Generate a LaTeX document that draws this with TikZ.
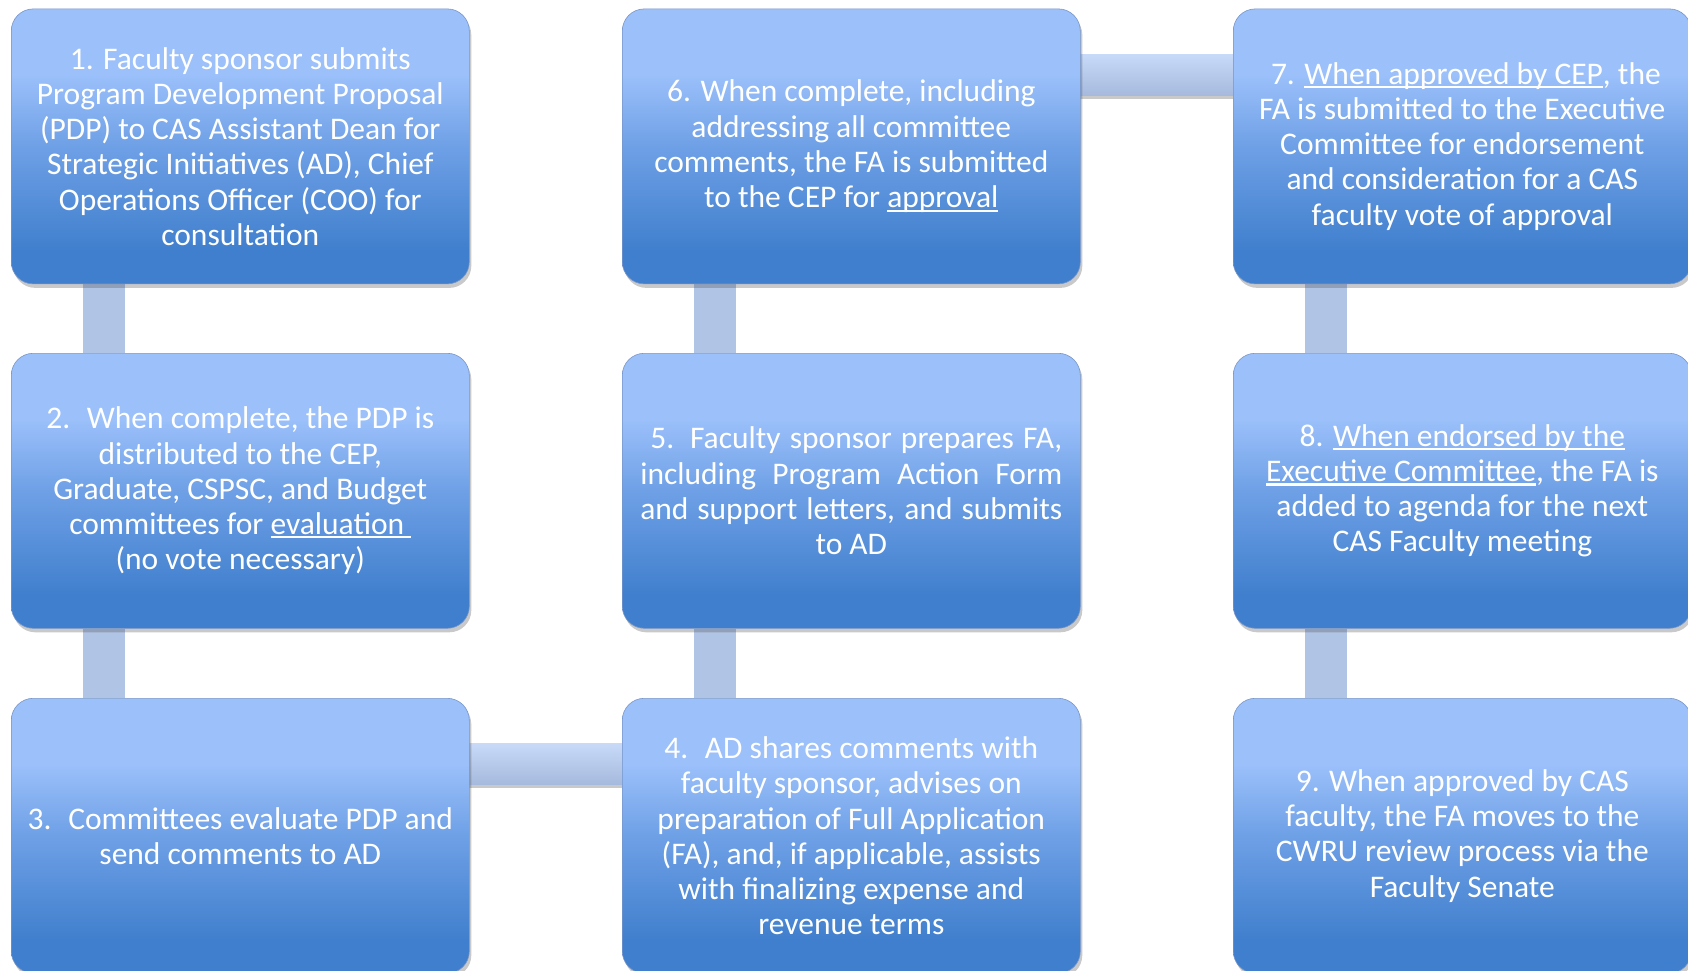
\documentclass[tikz,border=0pt]{standalone}
\usepackage{fontspec}
\setmainfont{Carlito}
\usetikzlibrary{shadows,calc}
\pgfdeclarelayer{bg}
\pgfsetlayers{bg,main}
\definecolor{boxtop}{RGB}{155,192,250}
\definecolor{boxmid}{RGB}{110,160,230}
\definecolor{boxbot}{RGB}{64,127,205}
\definecolor{boxedge}{RGB}{120,150,200}
\definecolor{barcol}{RGB}{176,196,230}
\definecolor{bartop}{RGB}{200,218,248}
\definecolor{barbot}{RGB}{166,186,222}
\pgfdeclareverticalshading{boxshade}{100bp}{color(0bp)=(boxbot); color(31bp)=(boxbot); color(50bp)=(boxmid); color(63bp)=(boxtop); color(100bp)=(boxtop)}
\newcommand\myul[1]{\setbox0\hbox{#1}\rlap{\rule[-0.13em]{\wd0}{0.065em}}\box0}
\tikzset{
  stepbox/.style={rectangle, rounded corners=22pt, minimum width=458pt,
    minimum height=275pt, inner sep=0pt, anchor=north west,
    shading=boxshade, draw=boxedge, line width=0.6pt,
    drop shadow={shadow xshift=2pt, shadow yshift=-4pt, opacity=0.3, fill=black!70},
    text=white, align=center, font=\fontsize{31.5}{35.2}\selectfont},
  vbar/.style={draw=barcol, line width=42pt},
  hbar/.style={top color=bartop, bottom color=barbot,
    drop shadow={shadow xshift=0pt, shadow yshift=-4pt, opacity=0.3, fill=black!70}},
}
\begin{document}
\begin{tikzpicture}[x=1pt,y=-1pt]
\useasboundingbox (0,0) rectangle (1688,971);
\node[stepbox] (b1) at (11,8.6) {1. Faculty sponsor submits\\ Program Development Proposal\\ (PDP) to CAS Assistant Dean for\\ Strategic Initiatives (AD), Chief\\ Operations Officer (COO) for\\ consultation};
\node[stepbox] (b2) at (11,353) {2.~ When complete, the PDP is\\ distributed to the CEP,\\ Graduate, CSPSC, and Budget\\ committees for \myul{evaluation\ }\\ (no vote necessary)};
\node[stepbox] (b3) at (11,698) {3.~ Committees evaluate PDP and\\ send comments to AD};
\node[stepbox] (b4) at (622,698) {4.~ AD shares comments with\\ faculty sponsor, advises on\\ preparation of Full Application\\ (FA), and, if applicable, assists\\ with finalizing expense and\\ revenue terms};
\node[stepbox] (b5) at (622,353) {\makebox[422pt][s]{\hspace*{10pt}5. Faculty sponsor prepares FA,}\\ \makebox[422pt][s]{including Program Action Form}\\ \makebox[422pt][s]{and support letters, and submits}\\ to AD};
\node[stepbox] (b6) at (622,8.6) {6. When complete, including\\ addressing all committee\\ comments, the FA is submitted\\ to the CEP for \myul{approval}};
\node[stepbox] (b7) at (1233,8.6) {\ 7. \myul{When approved by CEP}, the\\ FA is submitted to the Executive\\ Committee for endorsement\\ and consideration for a CAS\\ faculty vote of approval};
\node[stepbox] (b8) at (1233,353) {8. \myul{When endorsed by the}\\ \myul{Executive Committee}, the FA is\\ added to agenda for the next\\ CAS Faculty meeting};
\node[stepbox] (b9) at (1233,698) {9. When approved by CAS\\ faculty, the FA moves to the\\ CWRU review process via the\\ Faculty Senate};
\begin{pgfonlayer}{bg}
\draw[vbar] ($(b1.south west)+(93,0)$) -- ($(b2.north west)+(93,0)$);
\draw[vbar] ($(b2.south west)+(93,0)$) -- ($(b3.north west)+(93,0)$);
\draw[vbar] ($(b6.south west)+(93,0)$) -- ($(b5.north west)+(93,0)$);
\draw[vbar] ($(b5.south west)+(93,0)$) -- ($(b4.north west)+(93,0)$);
\draw[vbar] ($(b7.south west)+(93,0)$) -- ($(b8.north west)+(93,0)$);
\draw[vbar] ($(b8.south west)+(93,0)$) -- ($(b9.north west)+(93,0)$);
\path[hbar] ($(b3.north east)+(-10,45)$) rectangle ($(b4.north west)+(10,86)$);
\path[hbar] ($(b6.north east)+(-10,45.5)$) rectangle ($(b7.north west)+(10,86.5)$);
\end{pgfonlayer}
\end{tikzpicture}
\end{document}
